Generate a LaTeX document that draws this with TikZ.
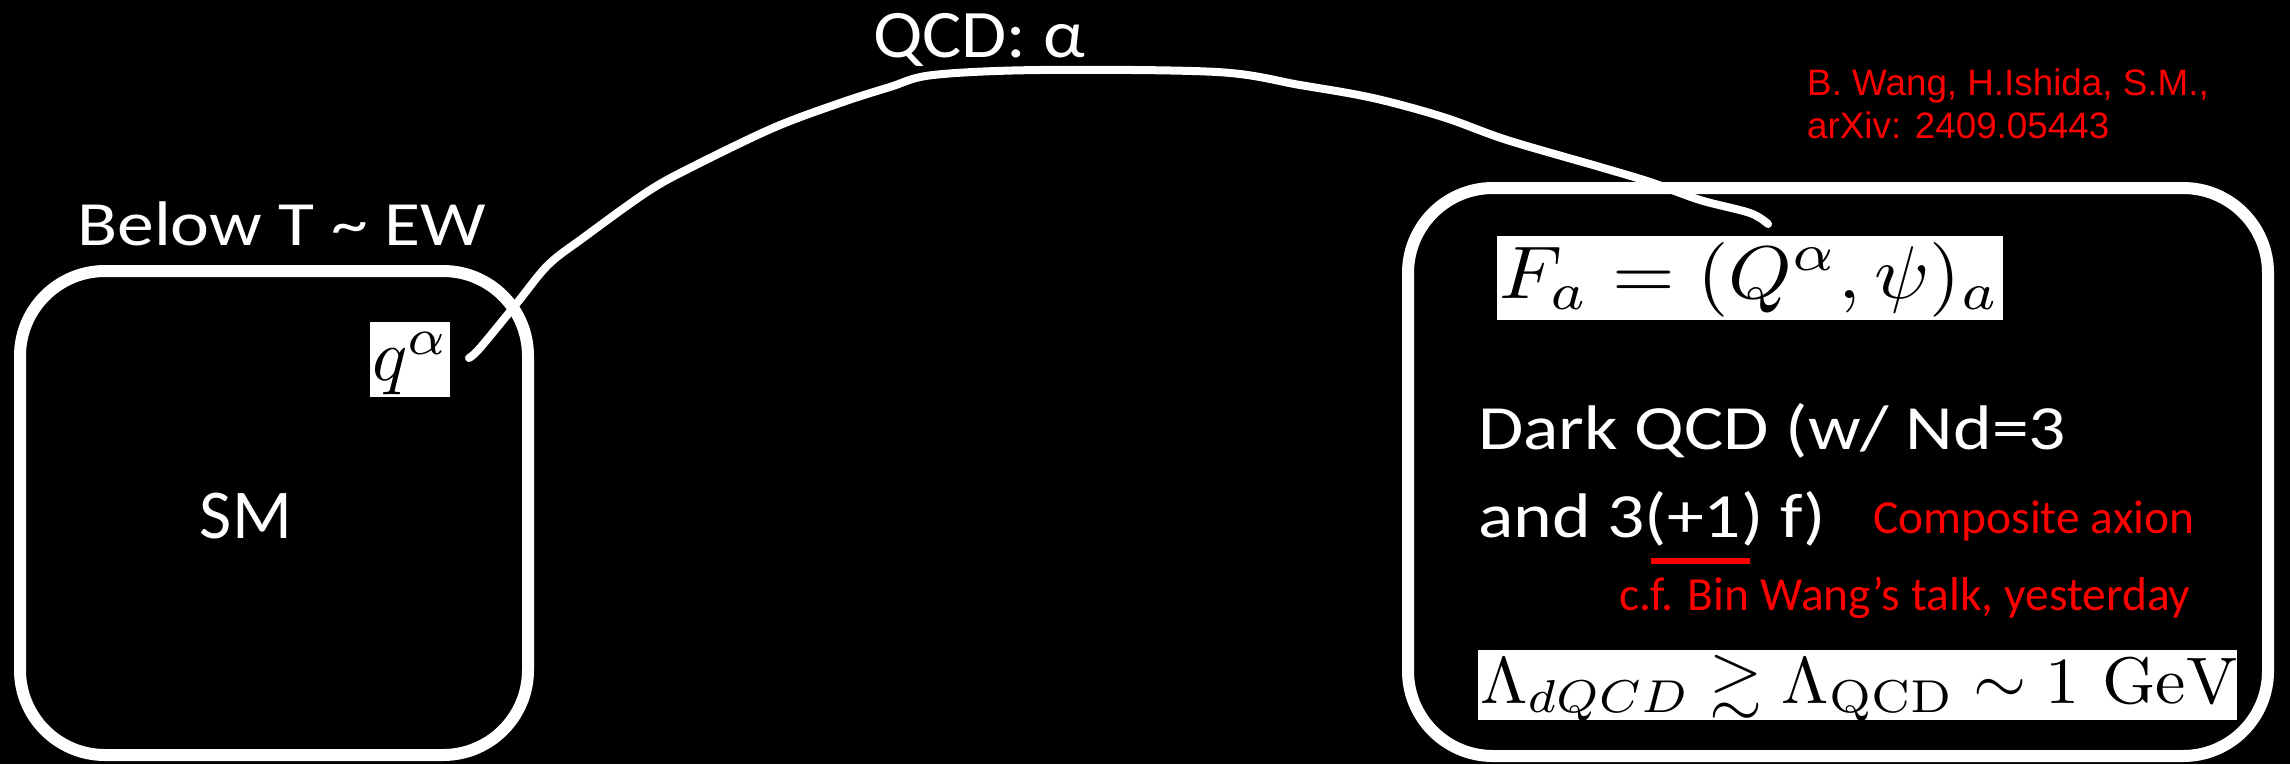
\RequirePackage{fix-cm}
\documentclass[tikz,border=0pt]{standalone}
\usepackage{amssymb}
\usepackage{graphicx}
\usepackage{fontspec}
\newfontfamily\calib{Carlito}
\newfontfamily\arialf{Liberation Sans}
\tikzset{
  boxline/.style={draw=white, line width=12pt, rounded corners=85pt, inner sep=0pt, outer sep=0pt, anchor=north west},
  wire/.style={draw=white, line width=8pt, line cap=round, line join=round},
  mathbg/.style={fill=white},
  mathtxt/.style={text=black, inner sep=0pt, outer sep=0pt, font=\fontsize{10}{12}\selectfont},
  wtext/.style={text=white, inner sep=0pt, anchor=base west, font=\calib\fontsize{63}{70}\selectfont},
  rtext/.style={text=red, inner sep=0pt, anchor=base west, font=\calib\fontsize{47.5}{50}\selectfont},
  cite/.style={text=red, inner sep=0pt, anchor=base west, font=\arialf\fontsize{36.8}{43}\selectfont},
}
\begin{document}
\begin{tikzpicture}[x=1pt, y=-1pt]
\fill[black] (0,0) rectangle (2290,764);
\useasboundingbox (0,0) rectangle (2290,764);

% boxes
\node[boxline, minimum width=508pt, minimum height=484pt] (smbox) at (20,271) {};
\node[boxline, minimum width=860pt, minimum height=568pt] (dkbox) at (1408,188) {};

% left box texts
\node[wtext] (below) at (77,245) {\scalebox{1.17}[1]{Below T \textasciitilde{} EW}};
\node[text=white, inner sep=0pt, anchor=base, font=\calib\fontsize{70}{75}\selectfont] (sm) at (246,538) {SM};
\fill[mathbg] (370,322) rectangle (450,397);
\node[mathtxt, anchor=south west] (q) at (372,395) {\resizebox*{77pt}{63pt}{$q^\alpha$}};

% top label
\node[wtext, font=\calib\fontsize{68}{72}\selectfont] (qcd) at (873,57) {\scalebox{1.08}[1]{QCD: α}};

% citation
\node[cite] (cite1) at (1807,95) {B. Wang, H.Ishida, S.M.,};
\node[cite] (cite2) at (1807,138) {arXiv: 2409.05443};

% right box contents
\fill[mathbg] (1497,236) rectangle (2003,320);
\node[mathtxt, anchor=base west] (fa) at (1499,298) {\resizebox{501pt}{56pt}{$F_a = (Q^\alpha, \psi)_a$}};
\node[wtext] (dark1) at (1478,449) {\scalebox{1.17}[1]{Dark QCD (w/ Nd=3}};
\node[wtext] (dark2) at (1478,537) {\scalebox{1.17}[1]{and 3(+1) f)}};
\draw[red, line width=6pt] (1651,561) -- (1750,561);
\node[rtext] (comp) at (1873,533) {Composite axion};
\node[rtext] (cf) at (1619,610) {c.f. Bin Wang’s talk, yesterday};
\fill[mathbg] (1478,650) rectangle (2237,720);
\node[mathtxt, anchor=base west] (lam) at (1480,703) {\resizebox{757pt}{48pt}{$\Lambda_{dQCD} \gtrsim \Lambda_{\mathrm{QCD}} \sim 1\ \mathrm{GeV}$}};

% connector
\coordinate (qend) at (469,358);
\coordinate (fend) at (1768,224);
\draw[wire] plot[smooth, tension=0.55] coordinates {(qend) (480,348) (517,303) (548,265) (583,238) (647,192) (690,168) (773,128) (840,103) (890,87) (933,75) (1040,70) (1217,72) (1300,85) (1373,98) (1443,117) (1507,140) (1600,167) (1650,182) (1700,200) (1750,213) (fend)};
\end{tikzpicture}
\end{document}
